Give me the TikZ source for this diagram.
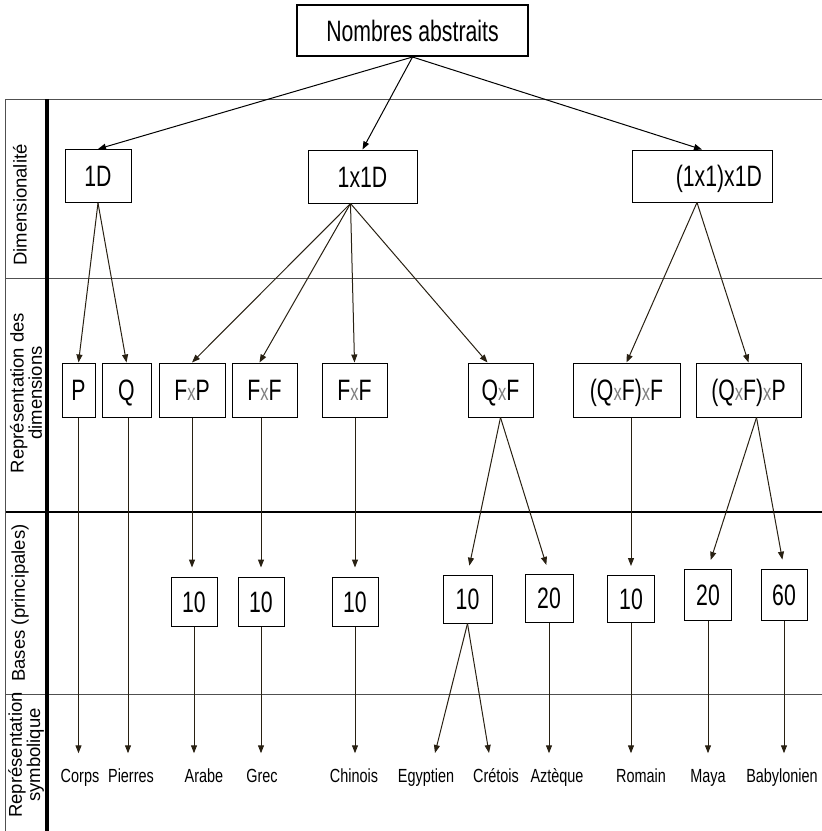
\documentclass[tikz,border=0pt]{standalone}
\usepackage{fontspec}
\setmainfont{Liberation Sans}
\newfontfamily\condf[FakeStretch=0.72]{Liberation Sans}
\newfontfamily\condl[FakeStretch=0.76]{Liberation Sans}
\usetikzlibrary{arrows.meta,calc}
\definecolor{connc}{RGB}{40,32,18}
\definecolor{gridc}{RGB}{80,80,80}
\newcommand{\tx}{{\color{gray}\fontsize{23}{23}\selectfont x}}
\begin{document}
\begin{tikzpicture}[x=1pt,y=-1pt,
  box/.style={draw=black,line width=1pt,inner sep=0pt,font=\condf\fontsize{29.5}{29.5}\selectfont,text height=21pt,text depth=0pt},
  lbl/.style={font=\condl\fontsize{19}{19}\selectfont,inner sep=0pt,text height=13pt,text depth=4pt,anchor=base},
  side/.style={rotate=90,font=\fontsize{18.5}{16}\selectfont,align=center,inner sep=0pt},
  conn/.style={draw=connc,line width=1pt,-{Triangle[width=6pt,length=8pt]}},
  gap/.style={shorten >=9pt},
  gapb/.style={shorten >=16pt},
]
\useasboundingbox (0,0) rectangle (822,831);
% grid
\draw[gridc,line width=0.9pt] (5,99) -- (822,99);
\draw[gridc,line width=0.9pt] (5,278) -- (822,278);
\draw[black,line width=2pt] (5,512) -- (822,512);
\draw[gridc,line width=0.9pt] (5,694) -- (822,694);
\draw[gridc,line width=0.9pt] (5,99) -- (5,831);
\draw[black,line width=3.5pt] (47,99) -- (47,831);
% side labels
\node[side] (s1) at (20,205) {Dimensionalité};
\node[side] (s2) at (26,393) {Représentation des\\dimensions};
\node[side] (s3) at (20,603) {Bases (principales)};
\node[side] (s4) at (26,755) {Représentation\\symbolique};
% top
\node[box,line width=2pt,minimum width=231pt,minimum height=51pt] (top) at (412.5,30.5) {Nombres abstraits};
% row 1
\node[box,minimum width=66pt,minimum height=53pt] (d1) at (98,176) {1D};
\node[box,minimum width=109pt,minimum height=53pt] (d11) at (362.5,176.5) {1x1D};
\node[box,minimum height=52pt,inner xsep=10pt,text width=120pt,align=right] (d111) at (702,176) {(1x1)x1D};
% row 2
\node[box,minimum width=33pt,minimum height=54pt] (P) at (78.5,390) {P};
\node[box,minimum width=49pt,minimum height=54pt] (Q) at (126.5,390) {Q};
\node[box,minimum width=66pt,minimum height=54pt] (FxP) at (192,390) {F\tx P};
\node[box,minimum width=65pt,minimum height=54pt] (FxFa) at (264.5,390) {F\tx F};
\node[box,minimum width=65pt,minimum height=54pt] (FxFb) at (354.5,390) {F\tx F};
\node[box,minimum width=65pt,minimum height=54pt] (QxF) at (500.5,390) {Q\tx F};
\node[box,minimum width=107pt,minimum height=54pt] (QFF) at (626.5,390) {(Q\tx F)\tx F};
\node[box,minimum width=105pt,minimum height=54pt] (QFP) at (748.5,390) {(Q\tx F)\tx P};
% row 3
\node[box,minimum width=46pt,minimum height=49pt] (b1) at (194,601.5) {10};
\node[box,minimum width=46pt,minimum height=49pt] (b2) at (261,601.5) {10};
\node[box,minimum width=46pt,minimum height=49pt] (b3) at (355,601.5) {10};
\node[box,minimum width=49pt,minimum height=48pt] (b4) at (467.5,599) {10};
\node[box,minimum width=48pt,minimum height=48pt] (b5) at (549,598) {20};
\node[box,minimum width=47pt,minimum height=47pt] (b6) at (631,599) {10};
\node[box,minimum width=47pt,minimum height=51pt] (b7) at (708,594.5) {20};
\node[box,minimum width=46pt,minimum height=51pt] (b8) at (784,594.5) {60};
% bottom labels
\node[lbl] (l1) at (80,782.5) {Corps};
\node[lbl] (l2) at (131,782.5) {Pierres};
\node[lbl] (l3) at (204,782.5) {Arabe};
\node[lbl] (l4) at (262,782.5) {Grec};
\node[lbl] (l5) at (354,782.5) {Chinois};
\node[lbl] (l6) at (426,782.5) {Egyptien};
\node[lbl] (l7) at (496,782.5) {Crétois};
\node[lbl] (l8) at (557,782.5) {Aztèque};
\node[lbl] (l9) at (641,782.5) {Romain};
\node[lbl] (l10) at (708,782.5) {Maya};
\node[lbl] (l11) at (782,782.5) {Babylonien};
% helper coordinates
\coordinate (d11s) at ($(d11.south)+(-12,0)$);
\coordinate (d111s) at ($(d111.south)+(-5,0)$);
\coordinate (QxFn) at ($(QxF.north)+(-13,0)$);
\coordinate (FxFan) at ($(FxFa.north)+(-5,0)$);
\coordinate (QFPs) at ($(QFP.south)+(8,0)$);
\coordinate (egy) at (435,753);
\coordinate (cre) at (489,753);
% connectors from top
\draw[conn,draw=black] (top.south) -- (d1.north);
\draw[conn,draw=black] (top.south) -- (d11.north);
\draw[conn,draw=black] (top.south) -- (d111.north);
% row1 -> row2
\draw[conn] (d1.south) -- (P.north);
\draw[conn] (d1.south) -- (Q.north);
\draw[conn] (d11s) -- (FxP.north);
\draw[conn] (d11s) -- (FxFan);
\draw[conn] (d11s) -- (FxFb.north);
\draw[conn] (d11s) -- (QxFn);
\draw[conn] (d111s) -- (QFF.north);
\draw[conn] (d111s) -- (QFP.north);
% row2 -> row3
\draw[conn,gap] (FxP.south) -- (FxP.south |- b1.north);
\draw[conn,gap] (FxFa.south -| b2) -- (b2.north);
\draw[conn,gap] (FxFb.south -| b3) -- (b3.north);
\draw[conn,gap] (QxF.south) -- (b4.north);
\draw[conn,gap] (QxF.south) -- (b5.north);
\draw[conn,gap] (QFF.south -| b6) -- (b6.north);
\draw[conn,gap] (QFPs) -- (b7.north);
\draw[conn,gap] (QFPs) -- (b8.north);
% to bottom labels
\draw[conn,gapb] (P.south) -- (P.south |- l1.north);
\draw[conn,gapb] (Q.south -| 128,0) -- (128,0 |- l2.north);
\draw[conn,gapb] (b1.south) -- (b1.south |- l3.north);
\draw[conn,gapb] (b2.south) -- (b2.south |- l4.north);
\draw[conn,gapb] (b3.south) -- (b3.south |- l5.north);
\draw[conn] (b4.south) -- (egy);
\draw[conn] (b4.south) -- (cre);
\draw[conn,gapb] (b5.south) -- (b5.south |- l8.north);
\draw[conn,gapb] (b6.south) -- (b6.south |- l9.north);
\draw[conn,gapb] (b7.south) -- (b7.south |- l10.north);
\draw[conn,gapb] (b8.south) -- (b8.south |- l11.north);
\end{tikzpicture}
\end{document}
